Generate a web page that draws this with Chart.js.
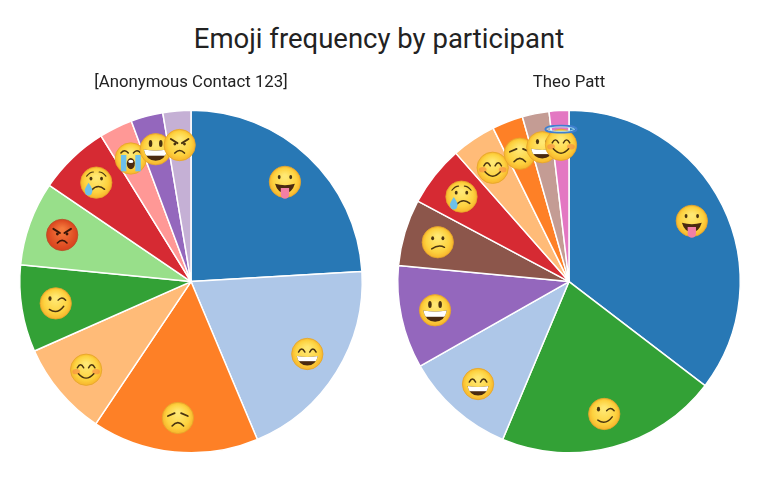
<!DOCTYPE html>
<html>
<head>
  <meta charset="utf-8">
  <style>
    html, body { margin: 0; background: #fff; width: 760px; height: 486px; overflow: hidden; }
    body { font-family: Roboto, sans-serif; color: #222; position: relative; }
    #heading { position: absolute; left: 0; top: 22px; width: 758px; text-align: center; font-size: 27.5px; line-height: 34px; }
    .box { position: absolute; top: 60px; height: 402px; width: 380px; }
    #left { left: 1px; }
    #right { left: 379px; }
  </style>
  <script src="https://cdn.jsdelivr.net/npm/chart.js"></script>
</head>
<body>
  <div id="heading">Emoji frequency by participant</div>
  <div class="box" id="left"><canvas id="chartLeft"></canvas></div>
  <div class="box" id="right"><canvas id="chartRight"></canvas></div>
  <script>
    const leftName = '[Anonymous Contact 123]';
    const leftEmoji = ['tongue', 'grin', 'sad', 'blush', 'wink', 'rage', 'cry', 'sob', 'smiley', 'angry'];
    const leftValues = [86.6, 70.6, 56.6, 32.3, 29.5, 28.6, 24.1, 11.3, 10.9, 9.5];
    const leftColors = ['#2878b5', '#aec7e8', '#fe8026', '#ffbb78', '#33a136', '#98df8a', '#d62a33', '#ff9896', '#9467bd', '#c5b0d5'];

    const rightName = 'Theo Patt';
    const rightEmoji = ['tongue', 'wink', 'grin', 'smiley', 'confused', 'cry', 'blush', 'sad', 'beam', 'halo'];
    const rightValues = [127.4, 75.4, 37.6, 35, 22.6, 20.6, 15.1, 10.5, 9.1, 6.7];
    const rightColors = ['#2878b5', '#33a136', '#aec7e8', '#9467bd', '#8c564b', '#d62a33', '#ffbb78', '#fe8026', '#c49c94', '#e377c2'];

    const emojiSize = 16;

    function line(ctx, pts, w, color) {
      ctx.beginPath();
      pts.forEach((p, i) => i ? ctx.lineTo(p[0], p[1]) : ctx.moveTo(p[0], p[1]));
      ctx.lineWidth = w;
      ctx.strokeStyle = color || '#4a3410';
      ctx.lineCap = 'round';
      ctx.stroke();
    }
    function curve(ctx, x0, y0, cx, cy, x1, y1, w, color) {
      ctx.beginPath();
      ctx.moveTo(x0, y0);
      ctx.quadraticCurveTo(cx, cy, x1, y1);
      ctx.lineWidth = w;
      ctx.strokeStyle = color || '#4a3410';
      ctx.lineCap = 'round';
      ctx.stroke();
    }
    function dot(ctx, x, y, rx, ry, color) {
      ctx.beginPath();
      ctx.ellipse(x, y, rx, ry, 0, 0, Math.PI * 2);
      ctx.fillStyle = color || '#4a3410';
      ctx.fill();
    }
    function openMouth(ctx, top, bottom, half) {
      ctx.beginPath();
      ctx.moveTo(-half, top);
      ctx.quadraticCurveTo(0, top + 0.14, half, top);
      ctx.quadraticCurveTo(half * 0.8, bottom, 0, bottom);
      ctx.quadraticCurveTo(-half * 0.8, bottom, -half, top);
      ctx.closePath();
      ctx.fillStyle = '#4a2a10';
      ctx.fill();
      ctx.save();
      ctx.clip();
      ctx.fillStyle = '#fff';
      ctx.fillRect(-half, top - 0.1, half * 2, (bottom - top) * 0.55 + 0.1);
      ctx.restore();
    }
    function happyEyes(ctx) {
      curve(ctx, -0.55, -0.12, -0.35, -0.5, -0.15, -0.12, 0.09);
      curve(ctx, 0.15, -0.12, 0.35, -0.5, 0.55, -0.12, 0.09);
    }
    function tear(ctx, x, y, s) {
      ctx.beginPath();
      ctx.moveTo(x, y - s * 1.5);
      ctx.quadraticCurveTo(x + s * 1.2, y + s * 0.2, x + s * 0.8, y + s * 0.7);
      ctx.arc(x, y + s * 0.6, s * 0.8, 0, Math.PI);
      ctx.quadraticCurveTo(x - s * 1.2, y + s * 0.2, x, y - s * 1.5);
      ctx.fillStyle = '#6cc0ec';
      ctx.fill();
    }
    function blushCheeks(ctx) {
      dot(ctx, -0.62, 0.12, 0.24, 0.17, 'rgba(245,120,70,0.5)');
      dot(ctx, 0.62, 0.12, 0.24, 0.17, 'rgba(245,120,70,0.5)');
    }

    const faces = {
      tongue(ctx) {
        dot(ctx, -0.36, -0.3, 0.09, 0.13);
        dot(ctx, 0.36, -0.3, 0.09, 0.13);
        ctx.beginPath();
        ctx.moveTo(-0.62, 0.12);
        ctx.quadraticCurveTo(0, 0.3, 0.62, 0.12);
        ctx.quadraticCurveTo(0.45, 0.7, 0, 0.7);
        ctx.quadraticCurveTo(-0.45, 0.7, -0.62, 0.12);
        ctx.fillStyle = '#4a2a10';
        ctx.fill();
        ctx.beginPath();
        ctx.moveTo(-0.26, 0.38);
        ctx.lineTo(0.26, 0.38);
        ctx.lineTo(0.26, 0.8);
        ctx.arc(0, 0.8, 0.26, 0, Math.PI);
        ctx.closePath();
        ctx.fillStyle = '#f37fa5';
        ctx.fill();
      },
      grin(ctx) {
        happyEyes(ctx);
        openMouth(ctx, 0.12, 0.72, 0.66);
      },
      sad(ctx) {
        line(ctx, [[-0.62, -0.12], [-0.2, -0.3]], 0.11);
        line(ctx, [[0.62, -0.12], [0.2, -0.3]], 0.11);
        curve(ctx, -0.36, 0.5, 0, 0.08, 0.36, 0.5, 0.1);
      },
      blush(ctx) {
        blushCheeks(ctx);
        happyEyes(ctx);
        curve(ctx, -0.48, 0.25, 0, 0.8, 0.48, 0.25, 0.09);
      },
      wink(ctx) {
        dot(ctx, -0.36, -0.3, 0.1, 0.15);
        curve(ctx, 0.15, -0.2, 0.38, -0.48, 0.62, -0.2, 0.09);
        curve(ctx, -0.4, 0.38, 0.1, 0.72, 0.5, 0.18, 0.09);
      },
      rage(ctx) {
        line(ctx, [[-0.55, -0.38], [-0.14, -0.12]], 0.12, '#3a1608');
        line(ctx, [[0.55, -0.38], [0.14, -0.12]], 0.12, '#3a1608');
        dot(ctx, -0.3, -0.06, 0.09, 0.09, '#3a1608');
        dot(ctx, 0.3, -0.06, 0.09, 0.09, '#3a1608');
        curve(ctx, -0.3, 0.5, 0, 0.18, 0.3, 0.5, 0.1, '#3a1608');
      },
      angry(ctx) {
        line(ctx, [[-0.55, -0.38], [-0.14, -0.12]], 0.12);
        line(ctx, [[0.55, -0.38], [0.14, -0.12]], 0.12);
        dot(ctx, -0.3, -0.06, 0.09, 0.09);
        dot(ctx, 0.3, -0.06, 0.09, 0.09);
        curve(ctx, -0.3, 0.5, 0, 0.18, 0.3, 0.5, 0.1);
      },
      cry(ctx) {
        curve(ctx, -0.6, -0.4, -0.4, -0.66, -0.18, -0.66, 0.07);
        curve(ctx, 0.6, -0.4, 0.4, -0.66, 0.18, -0.66, 0.07);
        dot(ctx, -0.33, -0.25, 0.09, 0.12);
        dot(ctx, 0.33, -0.25, 0.09, 0.12);
        curve(ctx, -0.3, 0.48, 0.1, 0.05, 0.52, 0.42, 0.09);
        tear(ctx, -0.48, 0.42, 0.27);
      },
      sob(ctx) {
        curve(ctx, -0.62, -0.34, -0.38, -0.62, -0.16, -0.34, 0.09);
        curve(ctx, 0.16, -0.34, 0.38, -0.62, 0.62, -0.34, 0.09);
        ctx.fillStyle = '#6cc0ec';
        ctx.fillRect(-0.62, -0.22, 0.34, 1.02);
        ctx.fillRect(0.28, -0.22, 0.34, 1.02);
        dot(ctx, 0, 0.32, 0.25, 0.35, '#4a2a10');
        dot(ctx, 0, 0.18, 0.16, 0.1, '#fff');
      },
      smiley(ctx) {
        dot(ctx, -0.32, -0.36, 0.11, 0.22);
        dot(ctx, 0.32, -0.36, 0.11, 0.22);
        openMouth(ctx, 0.02, 0.72, 0.74);
      },
      beam(ctx) {
        dot(ctx, -0.3, -0.35, 0.1, 0.16);
        dot(ctx, 0.3, -0.35, 0.1, 0.16);
        openMouth(ctx, 0.1, 0.7, 0.7);
      },
      confused(ctx) {
        dot(ctx, -0.32, -0.25, 0.09, 0.12);
        dot(ctx, 0.32, -0.25, 0.09, 0.12);
        curve(ctx, -0.38, 0.42, 0.05, 0.12, 0.42, 0.32, 0.09);
      },
      halo(ctx) {
        faces.blush(ctx);
        ctx.beginPath();
        ctx.ellipse(0, -0.98, 0.98, 0.22, 0, 0, Math.PI * 2);
        ctx.lineWidth = 0.1;
        ctx.strokeStyle = '#3f7fd0';
        ctx.stroke();
        ctx.beginPath();
        ctx.ellipse(0, -0.98, 0.86, 0.14, 0, 0, Math.PI * 2);
        ctx.lineWidth = 0.06;
        ctx.strokeStyle = '#a8dcf5';
        ctx.stroke();
      }
    };

    // paints the emoji of each slice on the arc the library laid out
    const emojiPlugin = {
      id: 'emojiFaces',
      afterDatasetsDraw(chart) {
        const ctx = chart.ctx;
        chart.getDatasetMeta(0).data.forEach((arc, i) => {
          const mid = (arc.startAngle + arc.endAngle) / 2;
          const x = arc.x + Math.cos(mid) * arc.outerRadius * 0.8;
          const y = arc.y + Math.sin(mid) * arc.outerRadius * 0.8;
          const name = chart.data.labels[i];
          ctx.save();
          ctx.translate(x, y);
          ctx.scale(emojiSize, emojiSize);
          const g = ctx.createRadialGradient(0, -0.35, 0.1, 0, 0, 1);
          if (name === 'rage') {
            g.addColorStop(0, '#f47a3c');
            g.addColorStop(1, '#d8401c');
          } else {
            g.addColorStop(0, '#ffe873');
            g.addColorStop(0.7, '#fdd23f');
            g.addColorStop(1, '#f7b32b');
          }
          ctx.beginPath();
          ctx.arc(0, 0, 0.98, 0, Math.PI * 2);
          ctx.fillStyle = g;
          ctx.fill();
          ctx.lineWidth = 0.05;
          ctx.strokeStyle = name === 'rage' ? '#b5502a' : '#e5a42a';
          ctx.stroke();
          faces[name](ctx);
          ctx.restore();
        });
      }
    };

    function makePie(id, title, labels, values, colors) {
      new Chart(document.getElementById(id), {
        type: 'pie',
        data: {
          labels: labels,
          datasets: [{ data: values, backgroundColor: colors, borderColor: '#fff', borderWidth: 1.5 }]
        },
        options: {
          responsive: true,
          maintainAspectRatio: false,
          animation: false,
          layout: { padding: { left: 18, right: 18, top: 0, bottom: 6 } },
          plugins: {
            legend: { display: false },
            tooltip: { enabled: false },
            title: {
              display: true,
              text: title,
              color: '#222',
              font: { family: 'Roboto', size: 16.8, weight: 'normal' },
              padding: { top: 13, bottom: 14 }
            }
          }
        },
        plugins: [emojiPlugin]
      });
    }

    makePie('chartLeft', leftName, leftEmoji, leftValues, leftColors);
    makePie('chartRight', rightName, rightEmoji, rightValues, rightColors);
  </script>
</body>
</html>
